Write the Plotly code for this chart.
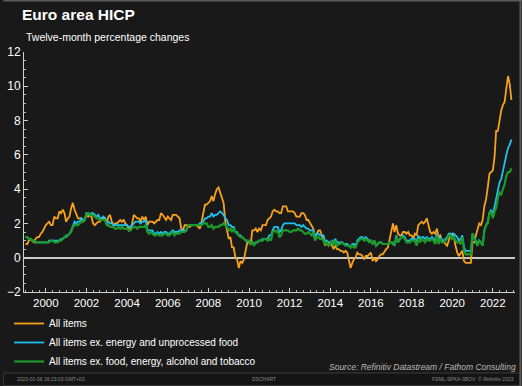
import pandas as pd
import plotly.graph_objects as go

# Monthly twelve-month % changes, Jan 1999 - Dec 2022
all_items = [
    0.8,0.8,1.0,1.1,1.0,0.9,1.1,1.2,1.2,1.4,1.5,1.7,   # 1999
    1.9,2.0,2.1,1.9,1.9,2.4,2.3,2.3,2.7,2.6,2.8,2.6,   # 2000
    2.1,2.3,2.4,2.9,3.2,2.8,2.5,2.3,2.3,2.3,2.1,2.2,   # 2001
    2.6,2.4,2.5,2.4,2.0,1.9,2.0,2.1,2.1,2.3,2.3,2.3,   # 2002
    2.1,2.4,2.5,2.1,1.9,2.0,2.0,2.1,2.2,2.1,2.2,2.0,   # 2003
    1.9,1.6,1.7,2.0,2.5,2.4,2.3,2.3,2.1,2.4,2.2,2.4,   # 2004
    1.9,2.1,2.1,2.1,2.0,2.1,2.2,2.2,2.6,2.5,2.3,2.2,   # 2005
    2.4,2.3,2.2,2.5,2.5,2.5,2.4,2.3,1.7,1.6,1.9,1.9,   # 2006
    1.8,1.8,1.9,1.9,1.9,1.9,1.8,1.7,2.1,2.6,3.1,3.1,   # 2007
    3.2,3.3,3.6,3.3,3.7,4.0,4.1,3.8,3.6,3.2,2.1,1.6,   # 2008
    1.1,1.2,0.6,0.6,0.0,-0.1,-0.6,-0.2,-0.3,-0.1,0.5,0.9,  # 2009
    0.9,0.8,1.6,1.6,1.7,1.5,1.7,1.6,1.9,1.9,1.9,2.2,   # 2010
    2.3,2.4,2.7,2.8,2.7,2.7,2.6,2.6,3.0,3.0,3.0,2.7,   # 2011
    2.7,2.7,2.7,2.6,2.4,2.4,2.4,2.6,2.6,2.5,2.2,2.2,   # 2012
    2.0,1.8,1.7,1.2,1.4,1.6,1.6,1.3,1.1,0.7,0.9,0.8,   # 2013
    0.8,0.7,0.5,0.7,0.5,0.5,0.4,0.4,0.3,0.4,0.3,-0.2,  # 2014
    -0.6,-0.3,-0.1,0.0,0.3,0.2,0.2,0.1,-0.1,0.1,0.1,0.2,  # 2015
    0.3,-0.2,0.0,-0.2,-0.1,0.1,0.2,0.2,0.4,0.5,0.6,1.1,   # 2016
    1.7,2.0,1.5,1.9,1.4,1.3,1.3,1.5,1.5,1.4,1.5,1.3,   # 2017
    1.3,1.1,1.4,1.3,1.9,2.0,2.1,2.0,2.1,2.3,1.9,1.5,   # 2018
    1.4,1.5,1.4,1.7,1.2,1.3,1.0,1.0,0.8,0.7,1.0,1.3,   # 2019
    1.4,1.2,0.7,0.3,0.1,0.3,0.4,-0.2,-0.3,-0.3,-0.3,-0.3,  # 2020
    0.9,0.9,1.3,1.6,2.0,1.9,2.2,3.0,3.4,4.1,4.9,5.0,   # 2021
    5.1,5.9,7.4,7.4,8.1,8.6,8.9,9.1,9.9,10.6,10.1,9.2, # 2022
]

ex_energy_unproc_food = [
    1.2,1.2,1.1,1.1,1.0,1.0,0.9,0.9,0.9,0.9,0.9,0.9,   # 1999
    0.9,0.9,1.0,1.0,1.0,1.0,1.0,1.0,1.0,1.1,1.1,1.2,   # 2000
    1.2,1.3,1.4,1.6,1.9,2.1,2.0,2.1,2.1,2.3,2.2,2.2,   # 2001
    2.6,2.6,2.5,2.6,2.6,2.5,2.4,2.5,2.3,2.3,2.4,2.3,   # 2002
    2.0,2.1,2.0,2.0,1.9,1.9,1.9,1.9,1.9,1.9,1.9,1.9,   # 2003
    1.9,1.8,1.8,1.9,2.0,2.1,2.1,2.1,2.0,2.1,2.1,2.2,   # 2004
    1.6,1.6,1.6,1.6,1.4,1.4,1.5,1.4,1.5,1.4,1.5,1.5,   # 2005
    1.4,1.4,1.5,1.6,1.5,1.5,1.5,1.6,1.6,1.6,1.6,1.6,   # 2006
    1.9,1.9,1.9,1.9,1.9,1.9,1.9,2.0,2.0,2.1,2.3,2.3,   # 2007
    2.4,2.4,2.6,2.4,2.5,2.5,2.6,2.7,2.6,2.5,2.3,2.2,   # 2008
    1.9,1.9,1.8,1.8,1.5,1.5,1.3,1.3,1.2,1.1,1.0,1.0,   # 2009
    0.9,0.8,0.9,0.8,0.9,0.9,1.0,1.0,1.1,1.1,1.1,1.1,   # 2010
    1.3,1.3,1.6,1.8,1.8,1.8,1.5,1.6,1.9,2.0,2.0,2.0,   # 2011
    2.0,2.0,2.0,2.0,1.9,1.9,1.9,1.8,1.9,1.8,1.7,1.7,   # 2012
    1.6,1.6,1.6,1.2,1.4,1.4,1.3,1.3,1.3,0.9,1.0,0.9,   # 2013
    0.9,1.0,0.9,1.1,0.9,0.9,0.9,0.9,0.8,0.8,0.8,0.7,   # 2014
    0.6,0.8,0.8,0.7,1.0,1.1,1.2,1.2,1.1,1.2,1.1,1.0,   # 2015
    1.0,0.8,1.0,0.7,0.8,0.9,0.9,0.8,0.8,0.8,0.8,0.9,   # 2016
    0.9,0.8,0.7,1.3,0.9,1.1,1.2,1.3,1.2,1.0,1.0,1.0,   # 2017
    1.1,1.1,1.1,0.9,1.3,1.1,1.2,1.2,1.1,1.2,1.1,1.1,   # 2018
    1.2,1.1,1.0,1.4,1.0,1.2,1.0,1.0,1.1,1.2,1.4,1.4,   # 2019
    1.3,1.4,1.3,1.2,1.0,1.1,1.3,0.6,0.4,0.4,0.4,0.4,   # 2020
    1.4,1.2,1.0,0.8,1.0,0.9,0.7,1.6,1.9,2.1,2.6,2.8,   # 2021
    2.5,3.0,3.4,3.9,4.4,4.6,5.1,5.5,6.0,6.4,6.6,6.9,   # 2022
]

ex_food_energy_alc_tob = [
    1.2,1.2,1.1,1.1,1.0,1.0,0.9,0.9,0.9,0.9,0.9,0.9,   # 1999
    0.9,0.9,0.9,1.0,1.0,0.9,0.9,0.9,1.0,1.0,1.1,1.2,   # 2000
    1.3,1.3,1.4,1.5,1.8,1.9,1.9,1.9,2.0,2.1,2.1,2.2,   # 2001
    2.5,2.6,2.5,2.5,2.5,2.4,2.3,2.3,2.2,2.2,2.2,2.2,   # 2002
    1.9,1.9,1.8,1.8,1.8,1.7,1.7,1.8,1.7,1.8,1.7,1.7,   # 2003
    1.7,1.6,1.6,1.7,1.8,1.8,1.7,1.8,1.8,1.8,1.8,1.9,   # 2004
    1.5,1.4,1.5,1.4,1.3,1.3,1.4,1.3,1.3,1.3,1.4,1.4,   # 2005
    1.3,1.3,1.4,1.5,1.3,1.4,1.4,1.4,1.5,1.5,1.5,1.6,   # 2006
    1.9,1.9,1.9,1.9,1.9,1.9,1.9,1.9,1.9,2.0,2.0,2.0,   # 2007
    1.8,1.8,1.9,1.7,1.8,1.8,1.8,1.9,1.9,2.0,1.9,1.8,   # 2008
    1.6,1.7,1.5,1.7,1.5,1.4,1.3,1.2,1.2,1.1,1.0,1.0,   # 2009
    1.0,0.8,0.9,0.7,0.9,0.9,1.0,1.0,1.0,1.1,1.1,1.0,   # 2010
    1.1,1.0,1.5,1.6,1.5,1.6,1.2,1.3,1.6,1.6,1.6,1.6,   # 2011
    1.5,1.5,1.6,1.6,1.6,1.7,1.6,1.6,1.5,1.4,1.4,1.5,   # 2012
    1.4,1.3,1.5,1.0,1.2,1.2,1.1,1.1,1.0,0.8,0.9,0.7,   # 2013
    0.8,1.0,0.7,1.0,0.7,0.8,0.8,0.9,0.8,0.7,0.7,0.7,   # 2014
    0.6,0.7,0.6,0.6,0.9,1.0,1.1,1.1,1.0,1.1,1.0,0.9,   # 2015
    1.0,0.8,1.0,0.7,0.8,0.9,0.9,0.8,0.8,0.8,0.8,0.9,   # 2016
    0.9,0.9,0.7,1.2,0.9,1.1,1.2,1.2,1.1,0.9,0.9,0.9,   # 2017
    1.0,1.0,1.0,0.7,1.1,0.9,1.1,1.0,0.9,1.1,1.0,1.0,   # 2018
    1.1,1.0,0.8,1.3,0.8,1.1,0.9,0.9,1.0,1.1,1.3,1.3,   # 2019
    1.1,1.2,1.0,0.9,0.9,0.8,1.2,0.4,0.2,0.2,0.2,0.2,   # 2020
    1.4,1.1,0.9,0.7,1.0,0.9,0.7,1.6,1.9,2.0,2.6,2.7,   # 2021
    2.3,2.7,2.9,3.5,3.8,3.7,4.0,4.3,4.8,5.0,5.0,5.2,   # 2022
]

dates = pd.date_range("1999-01-01", "2022-12-01", freq="MS")

series_names = [
    "All items",
    "All items ex. energy and unprocessed food",
    "All items ex. food, energy, alcohol and tobacco",
]
series_values = [all_items, ex_energy_unproc_food, ex_food_energy_alc_tob]
series_colors = ["#f7a21b", "#1fc3ef", "#1e9a2c"]
series_widths = [1.8, 1.8, 2.2]

y_tickvals = [-2, 0, 2, 4, 6, 8, 10, 12]

FONT = "Liberation Sans, Arial, sans-serif"
BG = "#191919"
W, H = 522, 386
ML, MR, MT, MB = 21, 7, 52, 94
PW, PH = W - ML - MR, H - MT - MB

def px_x(x):
    return (x - ML) / PW

def px_y(y):
    return (H - MB - y) / PH

fig = go.Figure()
for name, vals, col, w in zip(series_names, series_values, series_colors, series_widths):
    fig.add_trace(go.Scatter(x=dates, y=vals, mode="lines", name=name,
                             line=dict(color=col, width=w)))

fig.update_layout(
    width=W, height=H,
    margin=dict(l=ML, r=MR, t=MT, b=MB),
    paper_bgcolor=BG, plot_bgcolor=BG,
    font=dict(family=FONT, color="#ffffff", size=11),
    showlegend=True,
    legend=dict(x=px_x(6), y=px_y(309), xanchor="left", yanchor="top",
                bgcolor="rgba(0,0,0,0)", font=dict(size=10, color="#ffffff"),
                traceorder="normal", itemwidth=30),
    title=dict(text="<b>Euro area HICP</b>", x=22 / W, xref="container", xanchor="left",
               y=1 - 15 / H, yref="container", yanchor="middle",
               font=dict(size=15.5, color="#ffffff", family=FONT)),
)

fig.update_xaxes(
    type="date", range=["1998-12-05", "2023-02-03"],
    dtick="M24", tick0="2000-01-01", tickformat="%Y",
    ticks="inside", ticklen=4, tickcolor="#d0d0d0", tickwidth=1,
    showline=True, linecolor="#d0d0d0", linewidth=1,
    showgrid=False, zeroline=False,
    tickfont=dict(size=11.5, color="#ffffff"),
    minor=dict(dtick="M4", ticks="inside", ticklen=2, tickcolor="#bbbbbb", showgrid=False),
)
fig.update_yaxes(
    range=[-2, 12], tickvals=y_tickvals,
    ticks="inside", ticklen=4, tickcolor="#d0d0d0",
    showline=True, linecolor="#d0d0d0", linewidth=1,
    showgrid=False, zeroline=True, zerolinecolor="#c8c8c8", zerolinewidth=1.5,
    tickfont=dict(size=12, color="#ffffff"),
    minor=dict(dtick=0.5, ticks="inside", ticklen=2, tickcolor="#bbbbbb", showgrid=False),
)

fig.add_annotation(text="Twelve-month percentage changes", xref="paper", yref="paper",
                   x=px_x(21), y=px_y(37), xanchor="left", yanchor="middle",
                   showarrow=False, font=dict(size=10.5, color="#ffffff"))
fig.add_annotation(text="<i>Source: Refinitiv Datastream / Fathom Consulting</i>",
                   xref="paper", yref="paper", x=px_x(518), y=px_y(367),
                   xanchor="right", yanchor="middle", showarrow=False,
                   font=dict(size=8.5, color="#b8b8b8"))

# frame and status bar
fig.add_shape(type="rect", xref="paper", yref="paper",
              x0=px_x(0.5), x1=px_x(520), y0=px_y(373), y1=px_y(385.5),
              fillcolor="#141414", line=dict(color="#3a3a3a", width=1), layer="above")
fig.add_shape(type="line", xref="paper", yref="paper",
              x0=px_x(0), x1=px_x(522), y0=px_y(0.5), y1=px_y(0.5),
              line=dict(color="#5a5a5a", width=2))
fig.add_shape(type="line", xref="paper", yref="paper",
              x0=px_x(520.5), x1=px_x(520.5), y0=px_y(0), y1=px_y(386),
              line=dict(color="#5a5a5a", width=2))
for txt, xx, anc in [("2023-01-06 16:23:03 GMT+03", 12, "left"),
                     ("DSCHART", 262, "center"),
                     ("FSML-SPKA-3BOV  © Refinitiv 2023", 516, "right")]:
    fig.add_annotation(text=txt, xref="paper", yref="paper", x=px_x(xx), y=px_y(379),
                       xanchor=anc, yanchor="middle", showarrow=False,
                       font=dict(size=5, color="#8a8a8a"))

fig.write_html("out.html", config={"displayModeBar": False},
               post_script="document.body.style.margin='0';document.body.style.background='#191919';")
